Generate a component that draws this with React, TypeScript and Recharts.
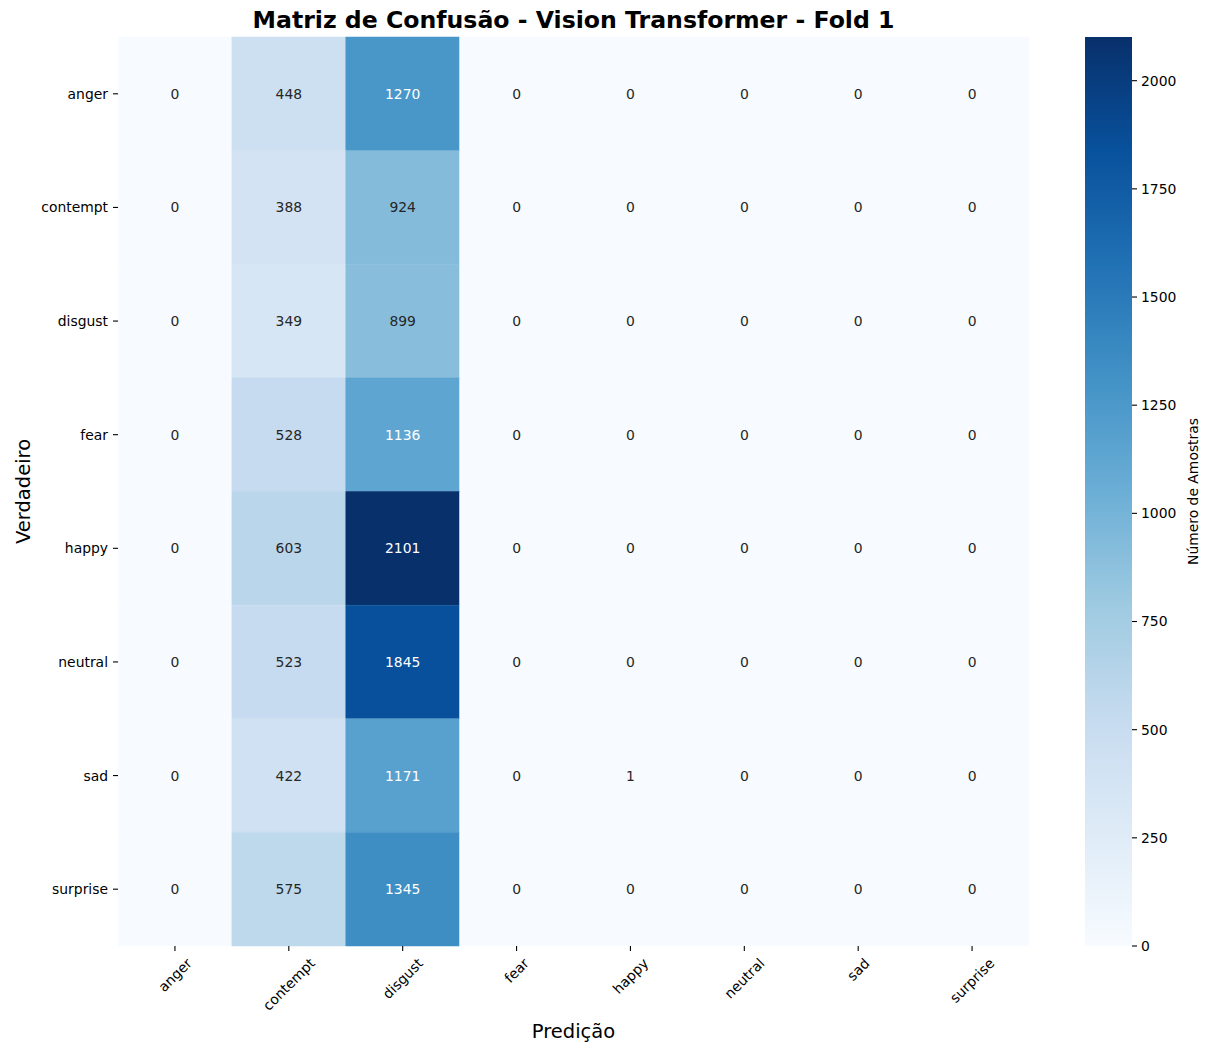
import { ScatterChart, Scatter, XAxis, YAxis, ReferenceArea } from "recharts";

const FONT = "'DejaVu Sans', sans-serif";
const TICK_PX = 13.9;

// figure layout (px)
const FIG_W = 1208;
const FIG_H = 1048;
const PLOT_LEFT = 118;
const PLOT_RIGHT = 1029;
const PLOT_TOP = 37;
const PLOT_BOTTOM = 946;
const CB_LEFT = 1085;
const CB_RIGHT = 1132;

const CLASSES = ["anger", "contempt", "disgust", "fear", "happy", "neutral", "sad", "surprise"];

// rows = true label, columns = predicted label
const angerRow = [0, 448, 1270, 0, 0, 0, 0, 0];
const contemptRow = [0, 388, 924, 0, 0, 0, 0, 0];
const disgustRow = [0, 349, 899, 0, 0, 0, 0, 0];
const fearRow = [0, 528, 1136, 0, 0, 0, 0, 0];
const happyRow = [0, 603, 2101, 0, 0, 0, 0, 0];
const neutralRow = [0, 523, 1845, 0, 0, 0, 0, 0];
const sadRow = [0, 422, 1171, 0, 1, 0, 0, 0];
const surpriseRow = [0, 575, 1345, 0, 0, 0, 0, 0];

const MATRIX = [angerRow, contemptRow, disgustRow, fearRow, happyRow, neutralRow, sadRow, surpriseRow];

const CLASS_TICKS = [0.5, 1.5, 2.5, 3.5, 4.5, 5.5, 6.5, 7.5];
const COLORBAR_TICKS = [0, 250, 500, 750, 1000, 1250, 1500, 1750, 2000];

// matplotlib "Blues" anchor colours
const BLUES = ["#f7fbff", "#deebf7", "#c6dbef", "#9ecae1", "#6baed6", "#4292c6", "#2171b5", "#08519c", "#08306b"];

const VMIN = 0;
const VMAX = Math.max(...MATRIX.flat());

const hexToRgb = (h: string) => [1, 3, 5].map((i) => parseInt(h.slice(i, i + 2), 16) / 255);

function blues(t: number): number[] {
  const c = Math.min(1, Math.max(0, t)) * (BLUES.length - 1);
  const i = Math.min(BLUES.length - 2, Math.floor(c));
  const f = c - i;
  const a = hexToRgb(BLUES[i]);
  const b = hexToRgb(BLUES[i + 1]);
  return a.map((v, k) => v + (b[k] - v) * f);
}

const toCss = (rgb: number[]) => `rgb(${rgb.map((v) => Math.round(v * 255)).join(",")})`;

function luminance(rgb: number[]) {
  const lin = rgb.map((c) => (c <= 0.03928 ? c / 12.92 : Math.pow((c + 0.055) / 1.055, 2.4)));
  return 0.2126 * lin[0] + 0.7152 * lin[1] + 0.0722 * lin[2];
}

const cells = MATRIX.flatMap((row, r) =>
  row.map((v, c) => {
    const rgb = blues((v - VMIN) / (VMAX - VMIN));
    return {
      x: c + 0.5,
      y: r + 0.5,
      v,
      fill: toCss(rgb),
      text: luminance(rgb) > 0.408 ? "#262626" : "#ffffff",
    };
  })
);

// anchor points so the colorbar chart has a data domain
const colorbarPoints = COLORBAR_TICKS.map((v) => ({ x: 0.5, y: v }));

let measureCtx: CanvasRenderingContext2D | null = null;
function textWidth(s: string) {
  if (!measureCtx) measureCtx = document.createElement("canvas").getContext("2d");
  if (!measureCtx) return s.length * TICK_PX * 0.6;
  measureCtx.font = `${TICK_PX}px "DejaVu Sans"`;
  return measureCtx.measureText(s).width;
}

// rotated class labels, bbox centred under the tick and hanging from a fixed top
function XClassTick({ x, payload }: any) {
  const label = CLASSES[Math.floor(payload.value)];
  const half = (textWidth(label) + TICK_PX * 1.164) * Math.SQRT1_2 / 2;
  const cy = PLOT_BOTTOM + 9 + half;
  return (
    <text
      x={x}
      y={cy}
      transform={`rotate(-45 ${x} ${cy})`}
      textAnchor="middle"
      dominantBaseline="central"
      fontFamily={FONT}
      fontSize={TICK_PX}
      fill="#000"
    >
      {label}
    </text>
  );
}

function YClassTick({ y, payload }: any) {
  return (
    <text
      x={PLOT_LEFT - 10}
      y={y}
      textAnchor="end"
      dominantBaseline="central"
      fontFamily={FONT}
      fontSize={TICK_PX}
      fill="#000"
    >
      {CLASSES[Math.floor(payload.value)]}
    </text>
  );
}

function CellValue({ cx, cy, payload }: any) {
  return (
    <text
      x={cx}
      y={cy}
      textAnchor="middle"
      dominantBaseline="central"
      fontFamily={FONT}
      fontSize={TICK_PX}
      fill={payload.text}
    >
      {payload.v}
    </text>
  );
}

const NoMark = () => <g />;

const tickLine = { stroke: "#000", strokeWidth: 1.1 };

export default function App() {
  return (
    <div style={{ position: "absolute", left: 0, top: 0, width: FIG_W, height: FIG_H, background: "#fff" }}>
      <div style={{ position: "absolute", left: 0, top: 0 }}>
        <ScatterChart
          width={FIG_W}
          height={FIG_H}
          margin={{ top: PLOT_TOP, right: FIG_W - PLOT_RIGHT, bottom: 0, left: 0 }}
        >
          <XAxis
            dataKey="x"
            type="number"
            domain={[0, 8]}
            ticks={CLASS_TICKS}
            interval={0}
            axisLine={false}
            tickLine={tickLine}
            tickSize={5}
            height={FIG_H - PLOT_BOTTOM}
            tick={<XClassTick />}
          />
          <YAxis
            dataKey="y"
            type="number"
            domain={[0, 8]}
            reversed
            ticks={CLASS_TICKS}
            interval={0}
            axisLine={false}
            tickLine={tickLine}
            tickSize={5}
            width={PLOT_LEFT}
            tick={<YClassTick />}
          />
          {cells.map((c) => (
            <ReferenceArea
              key={`${c.x}-${c.y}`}
              x1={c.x - 0.5}
              x2={c.x + 0.5}
              y1={c.y - 0.5}
              y2={c.y + 0.5}
              fill={c.fill}
              fillOpacity={1}
              stroke={c.fill}
              strokeWidth={0.5}
              ifOverflow="extendDomain"
            />
          ))}
          <Scatter data={cells} shape={<CellValue />} isAnimationActive={false} />
        </ScatterChart>
      </div>

      <div style={{ position: "absolute", left: 0, top: 0 }}>
        <ScatterChart
          width={FIG_W}
          height={FIG_H}
          margin={{ top: PLOT_TOP, right: 0, bottom: FIG_H - PLOT_BOTTOM, left: CB_LEFT }}
        >
          <defs>
            <linearGradient id="bluesBar" x1="0" y1="1" x2="0" y2="0">
              {BLUES.map((col, i) => (
                <stop key={col} offset={`${(i / (BLUES.length - 1)) * 100}%`} stopColor={col} />
              ))}
            </linearGradient>
          </defs>
          <XAxis dataKey="x" type="number" domain={[0, 1]} hide />
          <YAxis
            dataKey="y"
            type="number"
            orientation="right"
            domain={[VMIN, VMAX]}
            allowDataOverflow
            ticks={COLORBAR_TICKS}
            interval={0}
            axisLine={false}
            tickLine={tickLine}
            tickSize={5}
            tickMargin={4}
            width={FIG_W - CB_RIGHT}
            tick={{ fill: "#000", fontSize: TICK_PX, fontFamily: FONT }}
          />
          <ReferenceArea x1={0} x2={1} y1={VMIN} y2={VMAX} fill="url(#bluesBar)" fillOpacity={1} />
          <Scatter data={colorbarPoints} shape={<NoMark />} isAnimationActive={false} />
        </ScatterChart>
      </div>

      <svg
        width={FIG_W}
        height={FIG_H}
        style={{ position: "absolute", left: 0, top: 0, pointerEvents: "none" }}
        fontFamily={FONT}
      >
        <text x={(PLOT_LEFT + PLOT_RIGHT) / 2} y={28} textAnchor="middle" fontSize={23.6} fontWeight="bold" fill="#000">
          Matriz de Confusão - Vision Transformer - Fold 1
        </text>
        <text x={(PLOT_LEFT + PLOT_RIGHT) / 2} y={1038} textAnchor="middle" fontSize={19.5} fill="#000">
          Predição
        </text>
        <text
          transform={`translate(29.5 ${(PLOT_TOP + PLOT_BOTTOM) / 2}) rotate(-90)`}
          textAnchor="middle"
          fontSize={19.5}
          fill="#000"
        >
          Verdadeiro
        </text>
        <text
          transform={`translate(1198 ${(PLOT_TOP + PLOT_BOTTOM) / 2}) rotate(-90)`}
          textAnchor="middle"
          fontSize={TICK_PX}
          fill="#000"
        >
          Número de Amostras
        </text>
      </svg>
    </div>
  );
}
